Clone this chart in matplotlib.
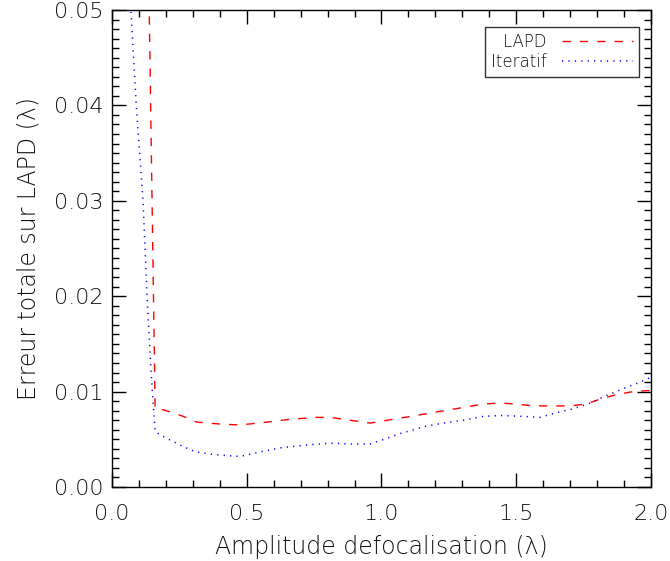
import matplotlib
matplotlib.use('Agg')
import matplotlib.pyplot as plt
from matplotlib.ticker import MultipleLocator, FormatStrFormatter

# values
x_lapd = [0.125, 0.16, 0.19, 0.265, 0.314, 0.40, 0.475, 0.574, 0.66, 0.76, 0.81,
          0.883, 0.957, 1.044, 1.13, 1.19, 1.254, 1.316, 1.378, 1.44, 1.50,
          1.563, 1.638, 1.70, 1.76, 1.81, 1.873, 1.934, 1.984, 2.0]
y_lapd = [0.075, 0.0082, 0.0081, 0.0074, 0.0068, 0.0066, 0.0065, 0.0068, 0.0071,
          0.0073, 0.0073, 0.0070, 0.0067, 0.0071, 0.0075, 0.0078, 0.0081, 0.0084,
          0.0087, 0.0088, 0.0087, 0.0085, 0.0085, 0.0085, 0.0087, 0.0092, 0.0097,
          0.0100, 0.0101, 0.0101]

x_iter = [0.05, 0.09, 0.115, 0.13, 0.145, 0.152, 0.16, 0.19, 0.252, 0.308, 0.376,
          0.475, 0.537, 0.623, 0.722, 0.81, 0.896, 0.957, 1.02, 1.069, 1.106,
          1.168, 1.23, 1.304, 1.378, 1.44, 1.527, 1.588, 1.65, 1.712, 1.774,
          1.836, 1.897, 1.96, 2.0]
y_iter = [0.06, 0.04, 0.03, 0.02, 0.012, 0.009, 0.0058, 0.0053, 0.0044, 0.0037,
          0.0034, 0.0032, 0.0036, 0.0041, 0.0044, 0.0046, 0.0045, 0.0045, 0.0051,
          0.0056, 0.0059, 0.0064, 0.0067, 0.0070, 0.0074, 0.0075, 0.0074, 0.0073,
          0.0078, 0.0082, 0.0088, 0.0096, 0.0103, 0.0110, 0.0115]

plt.rcParams['font.family'] = ['DejaVu Sans']
plt.rcParams['font.weight'] = 'light'
plt.rcParams['axes.labelweight'] = 'light'
txt = '#111111'

fig = plt.figure(figsize=(6.7, 5.61), dpi=100)
ax = fig.add_axes([0.1672, 0.1319, 0.8044, 0.8503])

ax.plot(x_lapd, y_lapd, color='red', lw=1.0, dashes=(6, 6.5), label='LAPD')
ax.plot(x_iter, y_iter, color='blue', lw=1.1, dashes=(0.8, 3.4), label='Iteratif')

ax.set_xlim(0, 2.0)
ax.set_ylim(0, 0.05)
ax.xaxis.set_major_locator(MultipleLocator(0.5))
ax.xaxis.set_minor_locator(MultipleLocator(0.1))
ax.yaxis.set_major_locator(MultipleLocator(0.01))
ax.yaxis.set_minor_locator(MultipleLocator(0.001))
ax.xaxis.set_major_formatter(FormatStrFormatter('%.1f'))
ax.yaxis.set_major_formatter(FormatStrFormatter('%.2f'))

ax.tick_params(which='both', direction='in', top=True, right=True,
               color='black', width=1, labelsize=16, labelcolor=txt)
ax.tick_params(which='major', length=10)
ax.tick_params(which='minor', length=5)
ax.tick_params(axis='x', pad=12)
ax.tick_params(axis='y', pad=6)
for s in ax.spines.values():
    s.set_linewidth(1)

ax.set_xlabel('Amplitude defocalisation (λ)', fontsize=17, color=txt, labelpad=8)
ax.set_ylabel('Erreur totale sur LAPD (λ)', fontsize=17, color=txt, labelpad=10)

leg = ax.legend(loc='upper right', bbox_to_anchor=(0.978, 0.964), borderaxespad=0,
                markerfirst=False, fontsize=12, frameon=True, fancybox=False,
                handlelength=4.3, borderpad=0.35, labelspacing=0.12, handletextpad=0.9)
leg.get_frame().set_edgecolor('black')
leg.get_frame().set_linewidth(1)
for t in leg.get_texts():
    t.set_color(txt)

fig.savefig('out.png', dpi=100)
